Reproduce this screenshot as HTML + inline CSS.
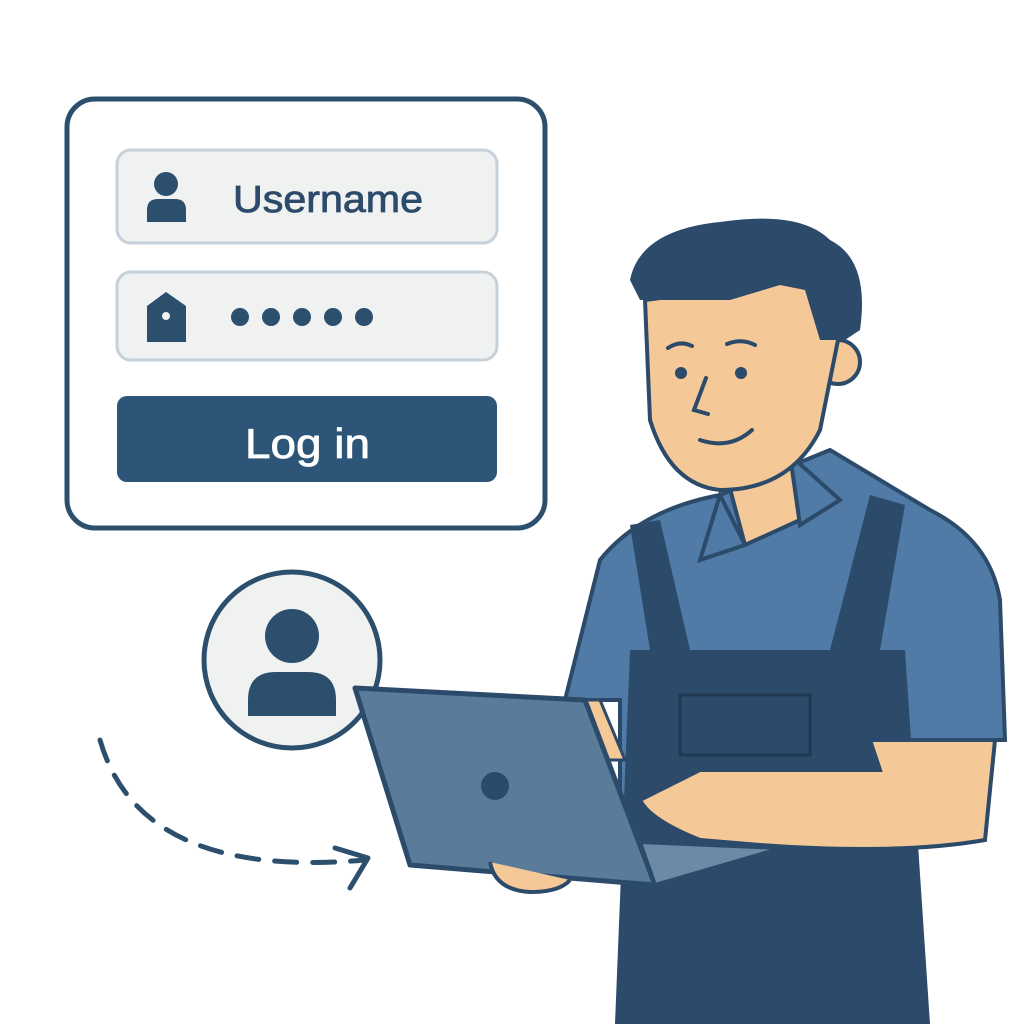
<!DOCTYPE html>
<html><head><meta charset="utf-8"><style>
html,body{margin:0;padding:0;background:#fff;width:1024px;height:1024px;overflow:hidden}
svg{display:block}
text{font-family:"Liberation Sans","DejaVu Sans",sans-serif}
</style></head><body>
<svg width="1024" height="1024" viewBox="0 0 1024 1024" xmlns="http://www.w3.org/2000/svg">
<rect width="1024" height="1024" fill="#fff"/>
<rect x="67" y="99" width="478" height="429" rx="28" fill="#fff" stroke="#2c4f6e" stroke-width="5"/>
<rect x="117" y="150" width="380" height="93" rx="14" fill="#f0f1f1" stroke="#c7d1da" stroke-width="3"/>
<rect x="117" y="272" width="380" height="88" rx="14" fill="#f0f1f1" stroke="#c7d1da" stroke-width="3"/>
<rect x="117" y="396" width="380" height="86" rx="10" fill="#2c5578"/>
<text x="233" y="212" font-size="38" fill="#2c4a6a" textLength="190" lengthAdjust="spacingAndGlyphs" stroke="#2c4a6a" stroke-width="0.8">Username</text>
<text x="245" y="458" font-size="42" fill="#fff" textLength="125" lengthAdjust="spacingAndGlyphs" stroke="#fff" stroke-width="0.8">Log in</text>
<circle cx="166" cy="184" r="12" fill="#2c4f6e"/>
<path d="M147 222 L147 210 Q147 199 158 199 L175 199 Q186 199 186 210 L186 222 Z" fill="#2c4f6e"/>
<path d="M147 342 L147 306 L166 292 L186 306 L186 342 Z" fill="#2c4f6e"/>
<circle cx="166" cy="316" r="4" fill="#f0f1f1"/>
<g fill="#2c4f6e"><circle cx="240" cy="317" r="9"/><circle cx="271" cy="317" r="9"/><circle cx="302" cy="317" r="9"/><circle cx="333" cy="317" r="9"/><circle cx="364" cy="317" r="9"/></g>
<circle cx="292" cy="660" r="88" fill="#f0f1f1" stroke="#2c4f6e" stroke-width="5"/>
<circle cx="292" cy="636" r="27" fill="#2c4f6e"/>
<path d="M248 716 L248 700 Q248 672 276 672 L308 672 Q336 672 336 700 L336 716 Z" fill="#2c4f6e"/>
<path d="M100 740 Q140 880 365 860" fill="none" stroke="#2c4f6e" stroke-width="5" stroke-dasharray="22 16" stroke-linecap="round"/>
<path d="M335 848 L368 858 L350 888" fill="none" stroke="#2c4f6e" stroke-width="5" stroke-linecap="round" stroke-linejoin="round"/>
<path d="M600 560 Q640 510 720 495 L830 450 Q880 480 930 510 Q990 540 1000 600 L1005 740 L870 740 L860 860 L620 860 L620 700 L565 700 Z" fill="#4f7ba6" stroke="#2c4a6a" stroke-width="4"/>
<path d="M660 520 L690 650 L830 650 L870 495 L905 505 L880 650 L905 650 L930 1024 L615 1024 L630 650 L650 650 L630 525 Z" fill="#2c4a6a"/>
<rect x="680" y="695" width="130" height="60" fill="#2c4a6a" stroke="#1f3952" stroke-width="3"/>
<path d="M725 470 L790 455 L800 520 L745 545 Z" fill="#f5c897" stroke="#2c4a6a" stroke-width="4"/>
<path d="M720 495 L745 545 L700 560 Z M790 455 L840 500 L800 525 Z" fill="#4f7ba6" stroke="#2c4a6a" stroke-width="4"/>
<circle cx="838" cy="362" r="22" fill="#f5c897" stroke="#2c4a6a" stroke-width="4"/>
<path d="M645 300 L650 420 Q670 485 720 490 Q790 490 820 430 L840 330 L800 280 Z" fill="#f5c897" stroke="#2c4a6a" stroke-width="4"/>
<path d="M630 280 Q640 230 720 222 Q800 210 830 240 Q870 260 860 330 L845 340 L820 340 L805 290 L780 285 L730 300 L650 300 L640 300 Z" fill="#2c4a6a"/>
<circle cx="681" cy="373" r="6" fill="#2c4a6a"/><circle cx="741" cy="373" r="6" fill="#2c4a6a"/>
<path d="M668 348 Q680 340 692 346 M727 344 Q742 338 755 345" fill="none" stroke="#2c4a6a" stroke-width="4" stroke-linecap="round"/>
<path d="M706 378 L694 410 L708 414" fill="none" stroke="#2c4a6a" stroke-width="4" stroke-linecap="round"/>
<path d="M700 440 Q730 450 752 430" fill="none" stroke="#2c4a6a" stroke-width="4" stroke-linecap="round"/>
<path d="M870 740 L995 740 L985 840 Q900 855 760 845 L700 840 Q650 820 640 800 L700 770 L790 770 L880 770 Z" fill="#f5c897" stroke="#2c4a6a" stroke-width="4"/>
<path d="M565 700 L600 700 L625 760 L600 760 Z" fill="#f5c897" stroke="#2c4a6a" stroke-width="3"/>
<path d="M355 688 L585 700 L655 885 L410 865 Z" fill="#5a7b9a" stroke="#2c4a6a" stroke-width="5" stroke-linejoin="round"/>
<path d="M640 842 L782 848 L655 885 Z" fill="#6c8aa6" stroke="#2c4a6a" stroke-width="4" stroke-linejoin="round"/>
<circle cx="495" cy="786" r="14" fill="#2c4a6a"/>
<path d="M490 862 Q495 890 530 892 Q560 892 570 880" fill="#f5c897" stroke="#2c4a6a" stroke-width="4"/>
</svg>
</body></html>
